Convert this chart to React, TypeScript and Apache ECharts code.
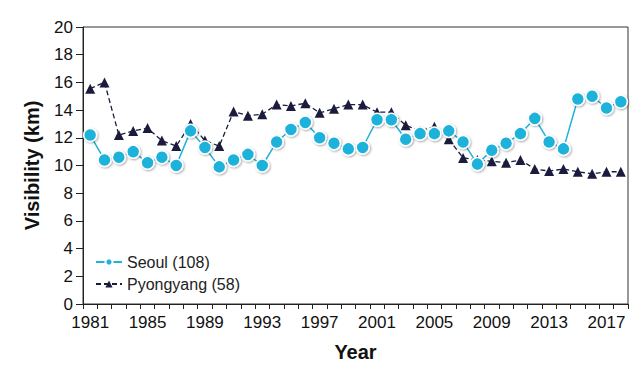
import React, { useEffect, useRef } from "react";
import * as echarts from "echarts";

const years: string[] = [];
for (let y = 1981; y <= 2018; y++) years.push(String(y));

const seoul = [
  12.2, 10.4, 10.6, 11.0, 10.2, 10.6, 10.0, 12.5, 11.3, 9.9,
  10.4, 10.8, 10.0, 11.7, 12.6, 13.1, 12.0, 11.6, 11.2, 11.3,
  13.3, 13.3, 11.9, 12.3, 12.3, 12.5, 11.7, 10.1, 11.1, 11.6,
  12.3, 13.4, 11.7, 11.2, 14.8, 15.0, 14.15, 14.6,
];

const pyongyang = [
  15.55, 16.0, 12.2, 12.5, 12.7, 11.8, 11.4, 13.0, 11.8, 11.4,
  13.9, 13.6, 13.7, 14.4, 14.3, 14.5, 13.8, 14.1, 14.4, 14.4,
  13.85, 13.85, 12.9, 12.5, 12.8, 11.9, 10.55, 10.4, 10.3, 10.2,
  10.4, 9.75, 9.6, 9.75, 9.55, 9.4, 9.55, 9.55,
];

export default function App() {
  const ref = useRef<HTMLDivElement>(null);
  useEffect(() => {
    if (!ref.current) return;
    const chart = echarts.init(ref.current, undefined, { renderer: "svg" });
    const font = "Liberation Sans, Arial, sans-serif";
    chart.setOption({
      animation: false,
      textStyle: { fontFamily: font },
      grid: {
        left: 75,
        right: 7,
        top: 19,
        bottom: 62,
        show: true,
        borderColor: "#333",
        borderWidth: 1,
      },
      legend: {
        orient: "vertical",
        left: 82,
        top: 241,
        itemGap: 6,
        itemWidth: 26,
        itemHeight: 9,
        textStyle: { fontSize: 16, color: "#222", fontFamily: font },
        data: ["Seoul (108)", "Pyongyang (58)"],
      },
      xAxis: {
        type: "category",
        data: years,
        boundaryGap: true,
        name: "Year",
        nameLocation: "middle",
        nameGap: 38,
        nameTextStyle: { fontSize: 20, fontWeight: "bold", color: "#111", fontFamily: font },
        axisLine: { lineStyle: { color: "#222", width: 1 } },
        axisTick: { show: true, interval: 0, length: 5, lineStyle: { color: "#222" } },
        axisLabel: { interval: 3, fontSize: 17, color: "#111", margin: 10, fontFamily: font },
        splitLine: { show: false },
      },
      yAxis: {
        type: "value",
        min: 0,
        max: 20,
        interval: 2,
        name: "Visibility (km)",
        nameLocation: "middle",
        nameRotate: 90,
        nameGap: 41,
        nameTextStyle: { fontSize: 20, fontWeight: "bold", color: "#111", fontFamily: font },
        axisLine: { show: true, lineStyle: { color: "#222", width: 1 } },
        axisTick: { show: true, length: 7, lineStyle: { color: "#222" } },
        axisLabel: { fontSize: 17, color: "#111", margin: 10, fontFamily: font },
        splitLine: { show: false },
      },
      series: [
        {
          name: "Pyongyang (58)",
          type: "line",
          data: pyongyang,
          symbol: "triangle",
          symbolSize: 10,
          showAllSymbol: true,
          itemStyle: { color: "#1b1b3d" },
          lineStyle: { color: "#1b1b3d", width: 1.3, type: [5, 3] },
          z: 2,
        },
        {
          name: "Seoul (108)",
          type: "line",
          data: seoul,
          symbol: "circle",
          symbolSize: 13,
          showAllSymbol: true,
          itemStyle: {
            color: "#1fb2da",
            borderColor: "#ffffff",
            borderWidth: 1.5,
            shadowColor: "rgba(0,0,0,0.35)",
            shadowBlur: 2,
            shadowOffsetX: 1,
            shadowOffsetY: 1,
          },
          lineStyle: { color: "#1fb2da", width: 1.5 },
          z: 3,
        },
      ],
    });
    return () => chart.dispose();
  }, []);
  return <div ref={ref} style={{ width: 627, height: 359 }} />;
}
